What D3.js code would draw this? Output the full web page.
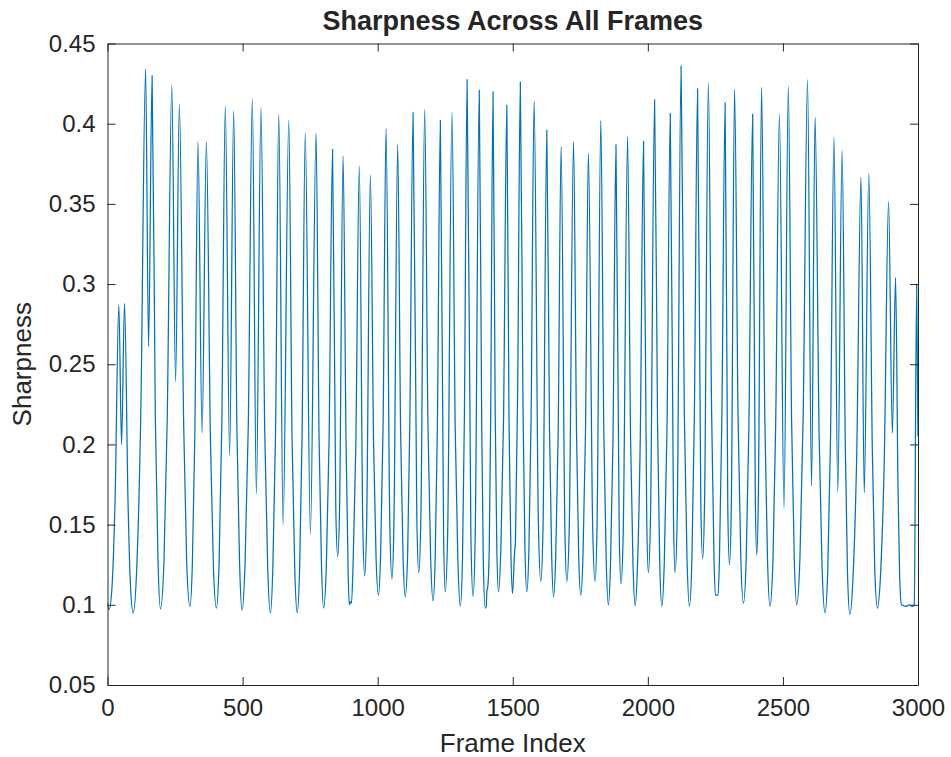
<!DOCTYPE html>
<html>
<head>
<meta charset="utf-8">
<script src="https://cdn.jsdelivr.net/npm/d3@7"></script>
<style>
  html, body { margin: 0; padding: 0; background: #fff; }
  svg { display: block; }
  text { font-family: "Liberation Sans", Arial, Helvetica, sans-serif; fill: #262626; }
</style>
</head>
<body>
<svg id="chart" width="951" height="757"></svg>
<script>
// ---- data: [frame index, sharpness] vertices
// (peaks, troughs, trough shoulders and small kinks) ----
const samples = [
  [0,0.101],[6,0.097],[17,0.112],[28,0.165],[42,0.287],[52,0.200],[63,0.288],
  [76,0.164],[85,0.112],[95,0.095],[109,0.126],[123,0.217],[141,0.434],[152,0.261],[165,0.430],
  [177,0.217],[187,0.127],[196,0.0975],[209,0.127],[221,0.215],[238,0.424],[252,0.239],[266,0.412],
  [282,0.212],[293,0.127],[305,0.099],[314,0.125],[323,0.203],[335,0.389],[350,0.207],[366,0.389],
  [381,0.203],[392,0.124],[403,0.098],[413,0.126],[423,0.211],[436,0.411],[452,0.193],[467,0.408],
  [479,0.209],[489,0.125],[498,0.0965],[509,0.125],[521,0.211],[536,0.4155],[551,0.169],[568,0.410],
  [582,0.208],[593,0.123],[603,0.095],[612,0.123],[622,0.207],[634,0.406],[650,0.150],[671,0.402],
  [683,0.205],[693,0.123],[702,0.095],[711,0.122],[720,0.203],[732,0.3945],[751,0.144],[772,0.394],
  [783,0.205],[792,0.125],[800,0.098],[810,0.124],[820,0.201],[833,0.384],[845,0.160],[852,0.130],[859,0.160],[872,0.380],
  [883,0.201],[891,0.118],[895,0.100],[899,0.102],[903,0.101],[909,0.125],[919,0.198],[932,0.3735],
  [945,0.149],[952,0.118],[959,0.148],[973,0.368],
  [985,0.200],[994,0.130],[1003,0.106],[1011,0.132],[1020,0.211],[1031,0.397],
  [1045,0.150],[1053,0.116],[1060,0.149],[1074,0.387],
  [1085,0.207],[1094,0.130],[1102,0.105],[1111,0.132],[1119,0.214],[1131,0.407],
  [1145,0.154],[1152,0.120],[1160,0.155],[1174,0.409],
  [1186,0.213],[1196,0.130],[1205,0.1025],[1213,0.130],[1221,0.210],[1232,0.402],
  [1244,0.143],[1250,0.108],[1259,0.144],[1275,0.407],
  [1287,0.210],[1297,0.127],[1306,0.099],[1314,0.129],[1321,0.217],[1331,0.4275],
  [1345,0.144],[1353,0.105],[1361,0.143],[1376,0.421],
  [1385,0.214],[1391,0.127],[1398,0.098],[1402,0.099],[1404,0.108],[1408,0.112],[1413,0.135],[1418,0.212],[1427,0.420],
  [1435,0.220],[1441,0.136],[1447,0.108],[1456,0.135],[1466,0.217],[1478,0.4115],
  [1486,0.217],[1493,0.134],[1499,0.107],[1503,0.118],[1506,0.131],[1510,0.140],[1518,0.230],[1528,0.426],
  [1538,0.222],[1545,0.137],[1552,0.108],[1560,0.136],[1568,0.218],[1579,0.414],
  [1595,0.150],[1604,0.1145],[1612,0.148],[1626,0.396],
  [1636,0.210],[1644,0.131],[1651,0.105],[1659,0.130],[1668,0.206],[1679,0.3857],
  [1693,0.147],[1700,0.1145],[1709,0.147],[1725,0.389],
  [1736,0.208],[1744,0.131],[1752,0.106],[1760,0.131],[1769,0.205],[1780,0.3816],
  [1796,0.147],[1805,0.1145],[1812,0.149],[1826,0.402],
  [1837,0.209],[1846,0.127],[1854,0.100],[1862,0.126],[1871,0.203],[1882,0.387],
  [1894,0.146],[1901,0.113],[1909,0.146],[1925,0.392],
  [1936,0.205],[1945,0.126],[1953,0.0995],[1962,0.126],[1972,0.204],[1984,0.389],
  [1996,0.152],[2002,0.120],[2010,0.156],[2025,0.415],
  [2036,0.213],[2044,0.127],[2052,0.099],[2061,0.127],[2071,0.210],[2083,0.4065],
  [2095,0.154],[2101,0.120],[2109,0.158],[2123,0.436],
  [2135,0.220],[2145,0.129],[2154,0.099],[2163,0.128],[2172,0.215],[2184,0.422],
  [2196,0.164],[2203,0.1287],[2210,0.164],[2224,0.4256],
  [2236,0.221],[2245,0.128],[2250,0.106],[2260,0.106],[2265,0.128],[2274,0.216],[2286,0.413],
  [2296,0.160],[2302,0.1251],[2309,0.161],[2321,0.4215],
  [2334,0.216],[2344,0.130],[2354,0.101],[2364,0.128],[2374,0.211],[2388,0.406],
  [2398,0.164],[2403,0.131],[2409,0.166],[2421,0.4227],
  [2433,0.216],[2443,0.128],[2452,0.099],[2463,0.127],[2473,0.210],[2487,0.406],[2504,0.160],[2520,0.4234],
  [2532,0.216],[2542,0.129],[2551,0.100],[2563,0.129],[2575,0.218],[2591,0.4275],[2606,0.174],[2619,0.404],
  [2634,0.206],[2645,0.123],[2656,0.095],[2666,0.122],[2676,0.202],[2689,0.3916],[2703,0.170],[2719,0.3837],
  [2731,0.198],[2739,0.120],[2748,0.094],[2760,0.119],[2773,0.192],[2789,0.3665],[2801,0.170],[2818,0.369],
  [2831,0.196],[2840,0.122],[2850,0.098],[2862,0.121],[2875,0.189],[2891,0.3515],[2905,0.207],[2917,0.304],
  [2926,0.173],[2932,0.118],[2939,0.100],[2955,0.099],[2968,0.100],[2978,0.099],[2986,0.100],[2995,0.300],[3000,0.205]
];
const xTicks = [0, 500, 1000, 1500, 2000, 2500, 3000];
const yTicks = [0.05, 0.1, 0.15, 0.2, 0.25, 0.3, 0.35, 0.4, 0.45];
const xDomain = [0, 3000];
const yDomain = [0.05, 0.45];
const titleText = "Sharpness Across All Frames";
const xLabelText = "Frame Index";
const yLabelText = "Sharpness";

// ---- layout ----
const svg = d3.select("#chart");
const L = 107.5, R = 918, T = 43.5, B = 685;
const x = d3.scaleLinear().domain(xDomain).range([L, R]);
const y = d3.scaleLinear().domain(yDomain).range([B, T]);
const axisColor = "#262626";
const tickLen = 8;

// clip
svg.append("defs").append("clipPath").attr("id", "clip")
  .append("rect").attr("x", L).attr("y", T).attr("width", R - L).attr("height", B - T);

// line
svg.append("path")
  .datum(samples)
  .attr("clip-path", "url(#clip)")
  .attr("fill", "none")
  .attr("stroke", "#0072BD")
  .attr("stroke-width", 1.25)
  .attr("stroke-linejoin", "round")
  .attr("d", d3.line().curve(d3.curveMonotoneX).x(d => x(d[0])).y(d => y(d[1])));

// axes (MATLAB style box with inward ticks)
const fs = 24;
const xAxisB = d3.axisBottom(x).tickValues(xTicks).tickSizeInner(-tickLen).tickSizeOuter(0).tickPadding(14).tickFormat(d3.format("d"));
const xAxisT = d3.axisTop(x).tickValues(xTicks).tickSizeInner(-tickLen).tickSizeOuter(0).tickFormat(() => "");
const yAxisL = d3.axisLeft(y).tickValues(yTicks).tickSizeInner(-tickLen).tickSizeOuter(0).tickPadding(12).tickFormat(d3.format(".2~f"));
const yAxisR = d3.axisRight(y).tickValues(yTicks).tickSizeInner(-tickLen).tickSizeOuter(0).tickFormat(() => "");

function style(g) {
  g.select(".domain").attr("stroke", axisColor).attr("stroke-width", 1);
  g.selectAll(".tick line").attr("stroke", axisColor).attr("stroke-width", 1);
  g.selectAll(".tick text").attr("font-size", fs).attr("fill", axisColor)
    .attr("font-family", '"Liberation Sans", Arial, sans-serif');
}
svg.append("g").attr("transform", `translate(0,${B})`).call(xAxisB).call(style);
svg.append("g").attr("transform", `translate(0,${T})`).call(xAxisT).call(style);
svg.append("g").attr("transform", `translate(${L},0)`).call(yAxisL).call(style);
svg.append("g").attr("transform", `translate(${R},0)`).call(yAxisR).call(style);

// title and labels
svg.append("text").attr("x", (L + R) / 2).attr("y", 30)
  .attr("text-anchor", "middle").attr("font-size", 27).attr("font-weight", "bold")
  .attr("fill", "#000").text(titleText);
svg.append("text").attr("x", (L + R) / 2).attr("y", 752)
  .attr("text-anchor", "middle").attr("font-size", 26).text(xLabelText);
svg.append("text").attr("transform", `translate(31,${(T + B) / 2}) rotate(-90)`)
  .attr("text-anchor", "middle").attr("font-size", 26).text(yLabelText);
</script>
</body>
</html>
